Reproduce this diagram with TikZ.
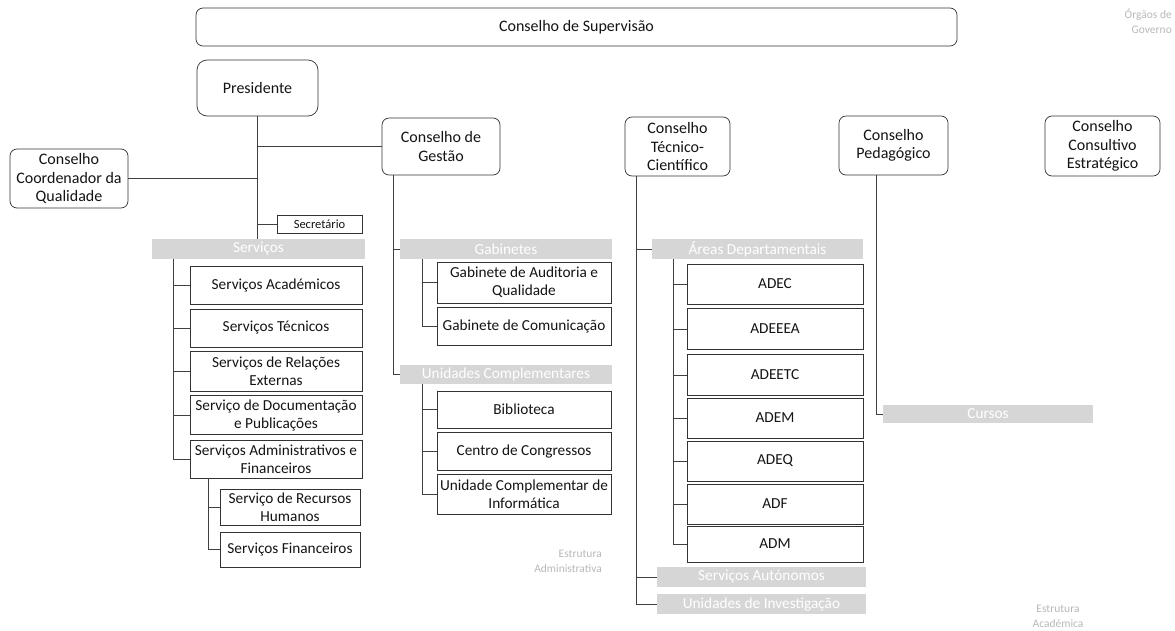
\documentclass[tikz,border=0pt]{standalone}
\usepackage{fontspec}
\setmainfont{Carlito}
\begin{document}
\begin{tikzpicture}[x=1pt,y=-1pt,
  every node/.style={inner sep=1pt, align=center, text=black!92},
  base/.style={draw=black!80, line width=0.7pt, fill=white, font={\fontsize{15.3}{18}\selectfont}},
  rbox/.style={base, rounded corners=7pt, font={\fontsize{16}{18.5}\selectfont}},
  sbox/.style={base},
  bar/.style={fill=black!16, draw=none, text=white, font={\fontsize{15.3}{18}\selectfont}},
  conn/.style={draw=black!75, line width=0.8pt},
  lab/.style={text=black!28, font={\fontsize{11.5}{14.5}\selectfont}}
]
\useasboundingbox (0,0) rectangle (1175,630);

% governing bodies
\node[rbox, minimum width=761, minimum height=38] (sup) at (576.5,27) {Conselho de Supervisão};
\node[rbox, rounded corners=10pt, minimum width=121, minimum height=56] (pres) at (257.5,88) {Presidente};
\node[rbox, minimum width=118, minimum height=59] (ccq) at (69,178.5) {Conselho\\Coordenador da\\Qualidade};
\node[rbox, minimum width=118, minimum height=57] (gest) at (441,146.5) {Conselho de\\Gestão};
\node[rbox, minimum width=105, minimum height=59] (tc) at (677.5,146.5) {Conselho\\Técnico-\\Científico};
\node[rbox, minimum width=109, minimum height=59] (ped) at (893.5,145.5) {Conselho\\Pedagógico};
\node[rbox, minimum width=115, minimum height=60] (cce) at (1102.5,146) {Conselho\\Consultivo\\Estratégico};

\node[sbox, font={\fontsize{12.5}{15}\selectfont}, minimum width=85, minimum height=18] (sec) at (319.5,224) {Secretário};

% Serviços
\node[bar, minimum width=213, minimum height=20] (serv) at (258.5,249) {Serviços};
\node[sbox, minimum width=172, minimum height=38] (sa) at (276,285) {Serviços Académicos};
\node[sbox, minimum width=172, minimum height=38] (st) at (276,328) {Serviços Técnicos};
\node[sbox, minimum width=172, minimum height=40] (sre) at (276,371) {Serviços de Relações\\Externas};
\node[sbox, minimum width=172, minimum height=39] (sdp) at (276,415) {Serviço de Documentação\\e Publicações};
\node[sbox, minimum width=172, minimum height=38] (saf) at (276,459) {Serviços Administrativos e\\Financeiros};
\node[sbox, minimum width=140, minimum height=36] (srh) at (290,507) {Serviço de Recursos\\Humanos};
\node[sbox, minimum width=140, minimum height=35] (sf) at (290,549.5) {Serviços Financeiros};

% Gabinetes / Unidades Complementares
\node[bar, minimum width=212, minimum height=20] (gab) at (506,249) {Gabinetes};
\node[sbox, minimum width=174, minimum height=41] (gaq) at (524,282.5) {Gabinete de Auditoria e\\Qualidade};
\node[sbox, minimum width=174, minimum height=38] (gc) at (524,326) {Gabinete de Comunicação};
\node[bar, minimum width=212, minimum height=19] (uc) at (506,374.5) {Unidades Complementares};
\node[sbox, minimum width=174, minimum height=37] (bib) at (524,409.5) {Biblioteca};
\node[sbox, minimum width=174, minimum height=38] (cc) at (524,451) {Centro de Congressos};
\node[sbox, minimum width=174, minimum height=40] (uci) at (524,494) {Unidade Complementar de\\Informática};

% Áreas Departamentais
\node[bar, minimum width=211, minimum height=20] (ad) at (757.5,249) {Áreas Departamentais};
\node[sbox, minimum width=176, minimum height=40] (adec) at (775,284) {ADEC};
\node[sbox, minimum width=176, minimum height=41] (adeeea) at (775,329) {ADEEEA};
\node[sbox, minimum width=176, minimum height=41] (adeetc) at (775,375) {ADEETC};
\node[sbox, minimum width=176, minimum height=40] (adem) at (775,418) {ADEM};
\node[sbox, minimum width=176, minimum height=40] (adeq) at (775,461) {ADEQ};
\node[sbox, minimum width=176, minimum height=40] (adf) at (775,504) {ADF};
\node[sbox, minimum width=176, minimum height=36] (adm) at (775,544) {ADM};
\node[bar, minimum width=209, minimum height=20] (saut) at (761.5,577) {Serviços Autónomos};
\node[bar, minimum width=209, minimum height=20] (ui) at (761.5,604) {Unidades de Investigação};

% Cursos
\node[bar, minimum width=210, minimum height=18] (cur) at (988,414) {Cursos};

% side labels
\node[lab, align=right, anchor=north east] (og) at (1173,8) {Órgãos de\\Governo};
\node[lab, align=right, anchor=north east] (ea) at (603,549) {Estrutura\\Administrativa};
\node[lab, align=center, anchor=north] (eac) at (1058,604) {Estrutura\\Académica};

% connectors: Presidente
\draw[conn] (pres.south) -- (pres.south |- serv.north);
\draw[conn] (pres.south |- gest.west) -- (gest.west);
\draw[conn] (ccq.east) -- (ccq.east -| pres.south);
\draw[conn] (pres.south |- sec.west) -- (sec.west);

% Serviços
\coordinate (sx) at (173,0);
\draw[conn] (sx |- serv.south) -- (sx |- saf.west);
\foreach \n in {sa,st,sre,sdp,saf} \draw[conn] (sx |- \n.west) -- (\n.west);
\coordinate (sy) at (208,0);
\draw[conn] (sy |- saf.south) -- (sy |- sf.west);
\foreach \n in {srh,sf} \draw[conn] (sy |- \n.west) -- (\n.west);

% Gestão
\coordinate (gx) at (393,0);
\draw[conn] (gx |- gest.south) -- (gx |- uc.west) -- (uc.west);
\draw[conn] (gx |- gab.west) -- (gab.west);
\coordinate (gy) at (422,0);
\draw[conn] (gy |- gab.south) -- (gy |- gc.west);
\foreach \n in {gaq,gc} \draw[conn] (gy |- \n.west) -- (\n.west);
\draw[conn] (gy |- uc.south) -- (gy |- uci.west);
\foreach \n in {bib,cc,uci} \draw[conn] (gy |- \n.west) -- (\n.west);

% Técnico-Científico
\coordinate (tx) at (636,0);
\draw[conn] (tx |- tc.south) -- (tx |- ui.west) -- (ui.west);
\draw[conn] (tx |- ad.west) -- (ad.west);
\draw[conn] (tx |- saut.west) -- (saut.west);
\coordinate (ty) at (673,0);
\draw[conn] (ty |- ad.south) -- (ty |- adm.west);
\foreach \n in {adec,adeeea,adeetc,adem,adeq,adf,adm} \draw[conn] (ty |- \n.west) -- (\n.west);

% Pedagógico
\coordinate (px) at (876,0);
\draw[conn] (px |- ped.south) -- (px |- cur.west) -- (cur.west);
\end{tikzpicture}
\end{document}
